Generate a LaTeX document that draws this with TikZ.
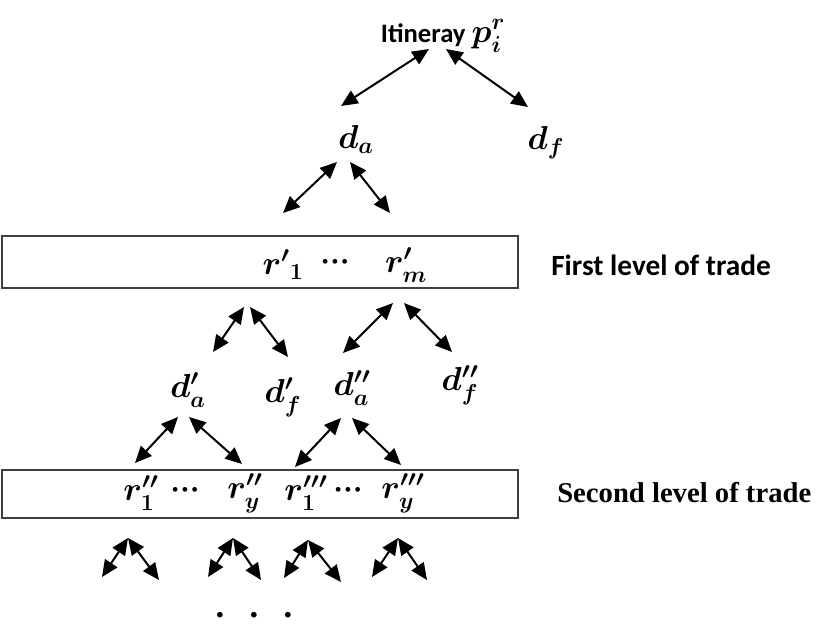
\documentclass[tikz,border=0pt]{standalone}
\usepackage{amsmath}
\usepackage{bm}
\usepackage{fontspec}
\usetikzlibrary{arrows.meta}
\newfontfamily\calibrifont{Carlito}
\newfontfamily\timesfont{Liberation Serif}

\begin{document}
\begin{tikzpicture}[x=0.75pt,y=-0.75pt]
    \tikzstyle{link}=[{Triangle[length=12.5pt,width=11pt]}-{Triangle[length=12.5pt,width=11pt]},line width=1.5pt,color=black]
    \tikzstyle{level box}=[draw=black!75,line width=1.5pt,inner sep=0pt,minimum width=387pt]
    \tikzstyle{symbol}=[font=\fontsize{24}{26}\selectfont\boldmath,inner sep=0pt]
    \tikzstyle{dots}=[font=\timesfont\bfseries\fontsize{22}{24}\selectfont,inner sep=0pt]
    \tikzstyle{level text}=[anchor=west,inner sep=0pt]

    \useasboundingbox (0,0) rectangle (816,624);

    % Itinerary and its two ends
    \node[inner sep=0pt,font=\calibrifont\bfseries\fontsize{20}{22}\selectfont\boldmath] (itin) at (443,36)
        {Itineray {\fontsize{25}{26}\selectfont$p_i^r$}};
    \node[style=symbol] (d_a) at (356,139) {$d_a$};
    \node[style=symbol] (d_f) at (546,143) {$d_f$};

    \coordinate (p_l) at (429,49);
    \coordinate (p_r) at (446,49);
    \coordinate (a_top) at (341,106);
    \coordinate (f_top) at (528,107);
    \draw[style=link] (p_l) -- (a_top);
    \draw[style=link] (p_r) -- (f_top);

    % d_a down to the first level
    \coordinate (da_l) at (337,162);
    \coordinate (da_r) at (350,162);
    \coordinate (r1_top) at (283,213);
    \coordinate (rm_top) at (390,213);
    \draw[style=link] (da_l) -- (r1_top);
    \draw[style=link] (da_r) -- (rm_top);

    % First level of trade
    \node[style=level box,minimum height=39pt] (level_1) at (260,262) {};
    \node[style=symbol] (r1_p) at (283,265) {${\bm{r}'}_{\bm{1}}$};
    \node[style=dots] (dots_1) at (335,265) {···};
    \node[style=symbol] (rm_p) at (406,265) {$r'_m$};
    \node[style=level text,font=\calibrifont\bfseries\fontsize{22}{24}\selectfont] (txt_1) at (551,265) {First level of trade};

    \coordinate (r1_l) at (244,307);
    \coordinate (r1_r) at (250,307);
    \coordinate (rm_l) at (393,303);
    \coordinate (rm_r) at (404,303);
    \coordinate (d1a_top) at (213,352);
    \coordinate (d1f_top) at (288,357);
    \coordinate (d2a_top) at (343,353);
    \coordinate (d2f_top) at (452,352);
    \draw[style=link] (r1_l) -- (d1a_top);
    \draw[style=link] (r1_r) -- (d1f_top);
    \draw[style=link] (rm_l) -- (d2a_top);
    \draw[style=link] (rm_r) -- (d2f_top);

    \node[style=symbol] (d1_a) at (188,390) {$d'_a$};
    \node[style=symbol] (d1_f) at (283,397) {$d'_f$};
    \node[style=symbol] (d2_a) at (352,388) {$d''_a$};
    \node[style=symbol] (d2_f) at (460,385) {$d''_f$};

    % d'_a and d''_a down to the second level
    \coordinate (d1a_l) at (178,417);
    \coordinate (d1a_r) at (189,417);
    \coordinate (d2a_l) at (341,418);
    \coordinate (d2a_r) at (352,418);
    \coordinate (s1_top) at (135,463);
    \coordinate (s2_top) at (242,464);
    \coordinate (s3_top) at (295,467);
    \coordinate (s4_top) at (401,465);
    \draw[style=link] (d1a_l) -- (s1_top);
    \draw[style=link] (d1a_r) -- (s2_top);
    \draw[style=link] (d2a_l) -- (s3_top);
    \draw[style=link] (d2a_r) -- (s4_top);

    % Second level of trade
    \node[style=level box,minimum height=36pt] (level_2) at (260,494) {};
    \node[style=symbol] (s_1) at (141,493) {$r''_1$};
    \node[style=dots] (dots_2) at (185,493) {···};
    \node[style=symbol] (s_2) at (245,493) {$r''_y$};
    \node[style=symbol] (s_3) at (306,493) {$r'''_1$};
    \node[style=dots] (dots_3) at (348,493) {···};
    \node[style=symbol] (s_4) at (403,493) {$r'''_y$};
    \node[style=level text,font=\timesfont\bfseries\fontsize{21.5}{24}\selectfont] (txt_2) at (557,493) {Second level of trade};

    % forks below the second level
    \coordinate (t_1) at (128,538);
    \coordinate (t_2) at (233,538);
    \coordinate (t_3) at (308,540);
    \coordinate (t_4) at (398,538);
    \coordinate (t_1l) at (102,577);
    \coordinate (t_1r) at (159,580);
    \coordinate (t_2l) at (208,577);
    \coordinate (t_2r) at (261,580);
    \coordinate (t_3l) at (284,578);
    \coordinate (t_3r) at (341,582);
    \coordinate (t_4l) at (372,577);
    \coordinate (t_4r) at (427,580);
    \draw[style=link] (t_1) -- (t_1l);
    \draw[style=link] (t_1) -- (t_1r);
    \draw[style=link] (t_2) -- (t_2l);
    \draw[style=link] (t_2) -- (t_2r);
    \draw[style=link] (t_3) -- (t_3l);
    \draw[style=link] (t_3) -- (t_3r);
    \draw[style=link] (t_4) -- (t_4l);
    \draw[style=link] (t_4) -- (t_4r);

    \node[font=\timesfont\bfseries\fontsize{26}{28}\selectfont,inner sep=0pt,anchor=base] (more) at (254,617) {.\hspace{19pt}.\hspace{19pt}.};

\end{tikzpicture}
\end{document}
